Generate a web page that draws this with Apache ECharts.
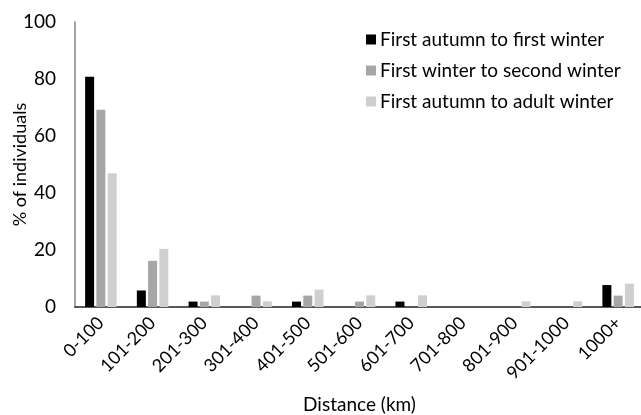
<!DOCTYPE html>
<html><head><meta charset="utf-8">
<script src="https://cdn.jsdelivr.net/npm/echarts@6/dist/echarts.min.js"></script>
<style>html,body{margin:0;padding:0;background:#fff}#c{width:641px;height:415px}</style>
</head><body><div id="c"></div>
<script>
var categories = ['0-100','101-200','201-300','301-400','401-500','501-600','601-700','701-800','801-900','901-1000','1000+'];
var seriesNames = ['First autumn to first winter','First winter to second winter','First autumn to adult winter'];
var autumnToFirstWinter = [80.8, 5.8, 1.9, 0, 1.9, 0, 1.9, 0, 0, 0, 7.7];
var winterToSecondWinter = [69.2, 16.2, 1.9, 4.0, 4.0, 1.9, 0, 0, 0, 0, 4.0];
var autumnToAdultWinter = [46.9, 20.4, 4.1, 2.0, 6.1, 4.1, 4.1, 0, 2.0, 2.0, 8.2];
var yTicks = [0, 20, 40, 60, 80, 100];
var colors = ['#000000', '#a6a6a6', '#cfcfcf'];
var font = 'Lato, "Open Sans", sans-serif';

var chart = echarts.init(document.getElementById('c'));
var data = [autumnToFirstWinter, winterToSecondWinter, autumnToAdultWinter];
chart.setOption({
  animation: false,
  color: colors,
  textStyle: {fontFamily: font},
  grid: {left: 75, right: -3, top: 22, bottom: 108, containLabel: false, outerBoundsMode: 'none'},
  legend: {
    orient: 'vertical', left: 361, top: 25,
    itemWidth: 10, itemHeight: 10, itemGap: 12,
    icon: 'rect',
    textStyle: {fontSize: 19, color: '#000', fontFamily: font, padding: [0,0,0,-1]},
    data: seriesNames
  },
  xAxis: {
    type: 'category', data: categories,
    name: 'Distance (km)', nameLocation: 'middle', nameGap: 88, nameMoveOverlap: false,
    nameTextStyle: {fontSize: 19, color: '#000', fontFamily: font},
    axisLine: {lineStyle: {color: '#222', width: 1.5}},
    axisTick: {show: false},
    axisLabel: {rotate: 45, fontSize: 18, color: '#000', margin: 13, interval: 0, fontFamily: font}
  },
  yAxis: {
    type: 'value', min: yTicks[0], max: yTicks[yTicks.length-1], interval: 20,
    name: '% of individuals', nameLocation: 'middle', nameGap: 46, nameMoveOverlap: false,
    nameTextStyle: {fontSize: 18, color: '#000', fontFamily: font},
    axisLine: {show: true, lineStyle: {color: '#888', width: 1.5}},
    axisTick: {show: false},
    splitLine: {show: false},
    axisLabel: {fontSize: 19, color: '#000', margin: 19, fontFamily: font}
  },
  series: seriesNames.map(function(n, i){
    return {name: n, type: 'bar', data: data[i], barWidth: 9, barGap: '25%', barCategoryGap: '38%'};
  })
});
</script></body></html>
